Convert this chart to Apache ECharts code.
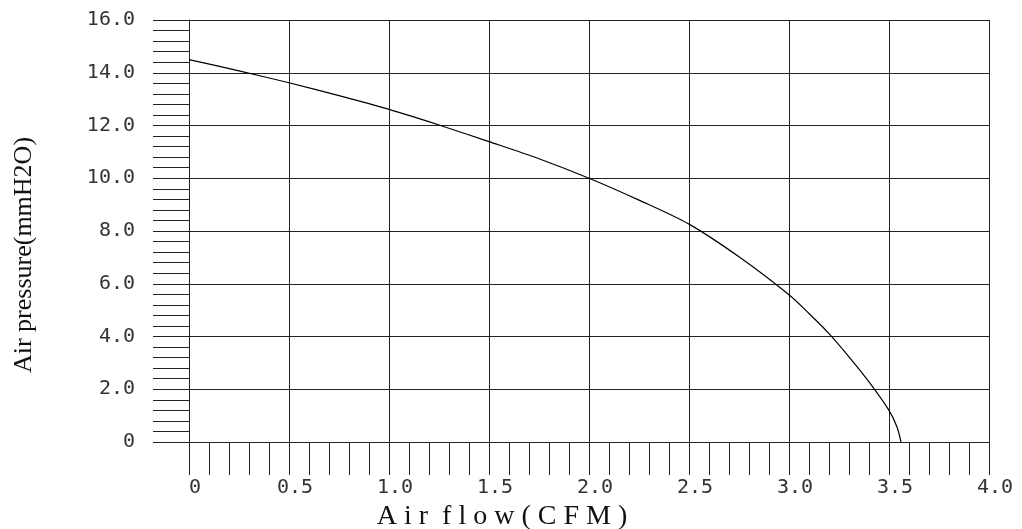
<!DOCTYPE html>
<html>
<head>
<meta charset="utf-8">
<script src="https://cdn.jsdelivr.net/npm/echarts@6/dist/echarts.min.js"></script>
<style>
  html, body { margin: 0; padding: 0; background: #fff; }
  #chart { width: 1022px; height: 529px; }
</style>
</head>
<body>
<div id="chart"></div>
<script>
// 数据
var flow = [0, 0.25, 0.5, 0.75, 1.0, 1.25, 1.5, 1.75, 2.0, 2.25, 2.5, 2.75, 3.0, 3.1, 3.2, 3.3, 3.4, 3.5, 3.54, 3.56];
var pressure = [14.5, 14.07, 13.62, 13.13, 12.61, 12.02, 11.39, 10.74, 10.0, 9.17, 8.26, 7.02, 5.58, 4.87, 4.11, 3.23, 2.28, 1.2, 0.57, 0];
var xName = 'A i r  f l o w ( C F M )';
var yName = 'Air pressure(mmH2O)';

var points = [];
flow.forEach(function(val, key) {
  points.push([val, pressure[key]]);
});

function tickLabel(v) {
  return v === 0 ? '0' : v.toFixed(1);
}

var chart = echarts.init(document.getElementById('chart'));
chart.setOption({
  backgroundColor: '#fff',
  animation: false,
  grid: {
    left: 189,
    right: 33,
    top: 20,
    bottom: 87,
    containLabel: false,
    outerBoundsMode: 'none'
  },
  xAxis: {
    type: 'value',
    min: 0,
    max: 4,
    interval: 0.5,
    name: xName,
    nameLocation: 'middle',
    nameGap: 56,
    nameTextStyle: {
      fontFamily: 'Liberation Serif',
      fontSize: 28,
      color: '#111',
      padding: [0, 174, 0, 0]
    },
    axisLine: { lineStyle: { color: '#222', width: 1 } },
    axisTick: { show: true, inside: false, length: 33, lineStyle: { color: '#222', width: 1 } },
    minorTick: { show: true, splitNumber: 5, length: 33, lineStyle: { color: '#222', width: 1 } },
    splitLine: { show: true, lineStyle: { color: '#222', width: 1 } },
    axisLabel: {
      margin: 36,
      formatter: tickLabel,
      fontFamily: 'DejaVu Sans Mono',
      fontSize: 20,
      color: '#333',
      padding: [0, 0, 0, 12]
    }
  },
  yAxis: {
    type: 'value',
    min: 0,
    max: 16,
    interval: 2,
    name: yName,
    nameLocation: 'middle',
    nameGap: 152,
    nameTextStyle: {
      fontFamily: 'Liberation Serif',
      fontSize: 26,
      color: '#111',
      padding: [0, 48, 0, 0]
    },
    axisLine: { lineStyle: { color: '#222', width: 1 } },
    axisTick: { show: true, inside: false, length: 36, lineStyle: { color: '#222', width: 1 } },
    minorTick: { show: true, splitNumber: 5, length: 36, lineStyle: { color: '#222', width: 1 } },
    splitLine: { show: true, lineStyle: { color: '#222', width: 1 } },
    axisLabel: {
      margin: 54,
      formatter: tickLabel,
      fontFamily: 'DejaVu Sans Mono',
      fontSize: 20,
      color: '#333'
    }
  },
  series: [{
    type: 'line',
    data: points,
    smooth: 0.3,
    showSymbol: false,
    lineStyle: { color: '#000', width: 1.2 }
  }]
});
</script>
</body>
</html>
